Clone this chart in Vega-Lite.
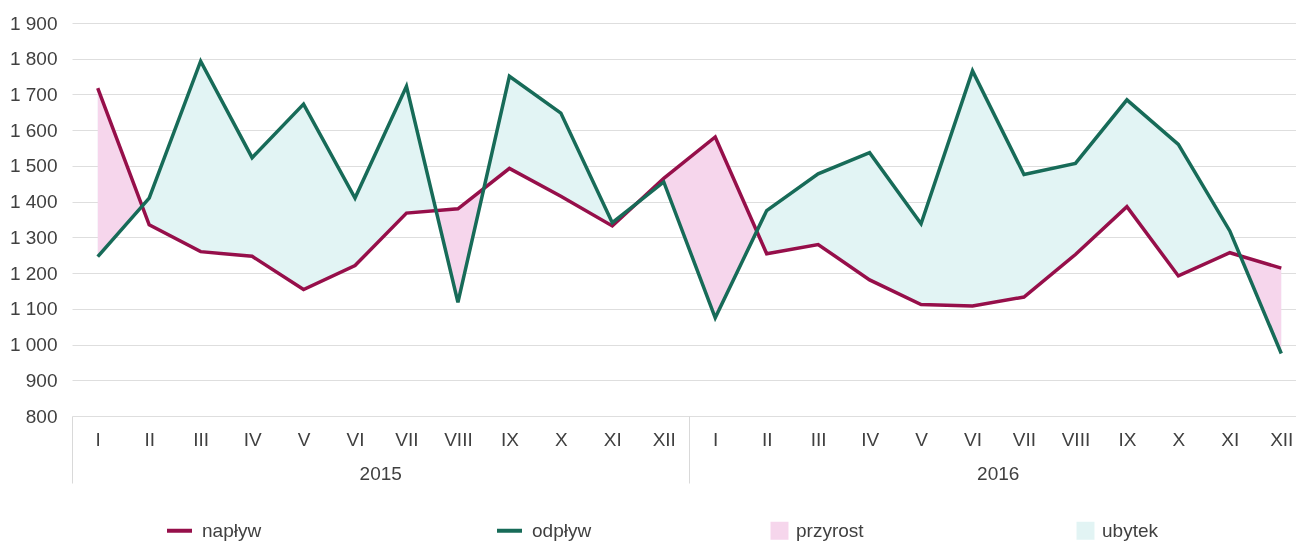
{
  "$schema": "https://vega.github.io/schema/vega-lite/v6.json",
  "autosize": {"type": "none"},
  "width": 1235,
  "height": 393,
  "padding": {"left": 72, "top": 23, "right": -11, "bottom": 126},
  "background": "white",
  "config": {
    "view": {"stroke": null, "fill": "white"},
    "font": "Liberation Sans",
    "axis": {"labelFont": "Liberation Sans", "labelColor": "#404040", "labelFontSize": 19},
    "axisY": {"domain": false, "ticks": false, "tickSize": 0, "grid": true, "gridColor": "#dedede", "gridWidth": 1, "labelPadding": 15, "title": null, "values": [800, 900, 1000, 1100, 1200, 1300, 1400, 1500, 1600, 1700, 1800, 1900], "labelExpr": "replace(format(datum.value, ','), ',', ' ')"},
    "legend": {"labelFont": "Liberation Sans", "labelFontSize": 19, "labelColor": "#404040", "padding": 0}
  },
  "data": {"values": [
    {"key": "I 2015", "year": "2015", "n": 1718, "o": 1246},
    {"key": "II 2015", "year": "2015", "n": 1335, "o": 1410},
    {"key": "III 2015", "year": "2015", "n": 1260, "o": 1793},
    {"key": "IV 2015", "year": "2015", "n": 1247, "o": 1523},
    {"key": "V 2015", "year": "2015", "n": 1154, "o": 1673},
    {"key": "VI 2015", "year": "2015", "n": 1221, "o": 1410},
    {"key": "VII 2015", "year": "2015", "n": 1368, "o": 1723},
    {"key": "VIII 2015", "year": "2015", "n": 1380, "o": 1118},
    {"key": "IX 2015", "year": "2015", "n": 1493, "o": 1751},
    {"key": "X 2015", "year": "2015", "n": 1415, "o": 1648},
    {"key": "XI 2015", "year": "2015", "n": 1332, "o": 1341},
    {"key": "XII 2015", "year": "2015", "n": 1465, "o": 1455},
    {"key": "I 2016", "year": "2016", "n": 1581, "o": 1075},
    {"key": "II 2016", "year": "2016", "n": 1254, "o": 1375},
    {"key": "III 2016", "year": "2016", "n": 1280, "o": 1478},
    {"key": "IV 2016", "year": "2016", "n": 1181, "o": 1537},
    {"key": "V 2016", "year": "2016", "n": 1112, "o": 1338},
    {"key": "VI 2016", "year": "2016", "n": 1108, "o": 1766},
    {"key": "VII 2016", "year": "2016", "n": 1133, "o": 1476},
    {"key": "VIII 2016", "year": "2016", "n": 1252, "o": 1507},
    {"key": "IX 2016", "year": "2016", "n": 1386, "o": 1685},
    {"key": "X 2016", "year": "2016", "n": 1192, "o": 1560},
    {"key": "XI 2016", "year": "2016", "n": 1257, "o": 1318},
    {"key": "XII 2016", "year": "2016", "n": 1214, "o": 975}
  ]},
  "layer": [
    {
      "encoding": {
        "x": {"field": "key", "type": "ordinal", "sort": null,
          "axis": {"title": null, "labelExpr": "split(datum.label, ' ')[0]", "ticks": false, "tickSize": 0, "domain": false, "grid": false, "labelAngle": 0, "labelPadding": 23, "labelBaseline": "middle", "labelFontSize": 19, "orient": "bottom"}}
      },
      "layer": [
        {
          "mark": {"type": "area", "fill": "rgb(227,214,236)", "opacity": 1},
          "encoding": {
            "y": {"field": "n", "type": "quantitative", "scale": {"domain": [800, 1900], "zero": false, "nice": false}},
            "y2": {"field": "o"}
          }
        },
        {
          "mark": {"type": "area", "fill": "rgb(0,255,255)", "opacity": 1, "blend": "hue"},
          "encoding": {
            "y": {"field": "o", "type": "quantitative"},
            "y2": {"datum": 800}
          }
        },
        {
          "mark": {"type": "area", "fill": "rgb(0,79,79)", "opacity": 1, "blend": "saturation"},
          "encoding": {
            "y": {"field": "o", "type": "quantitative"},
            "y2": {"datum": 800}
          }
        },
        {
          "mark": {"type": "area", "fill": "rgb(173,0,0)", "opacity": 1, "blend": "screen"},
          "encoding": {
            "y": {"field": "n", "type": "quantitative"},
            "y2": {"field": "o"}
          }
        },
        {
          "mark": {"type": "line", "strokeWidth": 3.5},
          "encoding": {
            "y": {"field": "n", "type": "quantitative"},
            "stroke": {"datum": "napływ", "type": "nominal",
              "scale": {"domain": ["napływ", "odpływ"], "range": ["#960f4a", "#176b58"]},
              "legend": {"title": null, "orient": "none", "legendX": 93, "legendY": 493, "direction": "horizontal", "columnPadding": 227, "symbolType": "stroke", "symbolSize": 625, "symbolStrokeWidth": 4, "labelOffset": 8}}
          }
        },
        {
          "mark": {"type": "line", "strokeWidth": 3.5},
          "encoding": {
            "y": {"field": "o", "type": "quantitative"},
            "stroke": {"datum": "odpływ", "type": "nominal"}
          }
        },
        {
          "transform": [{"filter": "datum.n < 0"}],
          "mark": {"type": "square", "opacity": 1, "filled": true},
          "encoding": {
            "y": {"field": "n", "type": "quantitative"},
            "fill": {"field": "kind", "type": "nominal",
              "scale": {"domain": ["przyrost", "ubytek"], "range": ["#f6d6ec", "#e2f4f4"]},
              "legend": {"title": null, "orient": "none", "legendX": 698, "legendY": 498, "direction": "horizontal", "columnPadding": 212, "symbolType": "square", "symbolSize": 324, "symbolOpacity": 1, "symbolStrokeWidth": 0, "labelOffset": 7}}
          }
        }
      ]
    },
    {
      "mark": {"type": "bar", "opacity": 0},
      "encoding": {
        "x": {"field": "year", "type": "ordinal",
          "scale": {"type": "band", "paddingInner": 0, "paddingOuter": 0},
          "axis": {"title": null, "orient": "bottom", "domain": false, "ticks": true, "tickSize": 67, "tickColor": "#d9d9d9", "tickWidth": 1, "bandPosition": 0, "labelPadding": -10, "labelBaseline": "middle", "labelAngle": 0, "grid": false, "labelFontSize": 19}}
      }
    }
  ],
  "resolve": {"scale": {"x": "independent"}, "axis": {"x": "independent"}}
}
